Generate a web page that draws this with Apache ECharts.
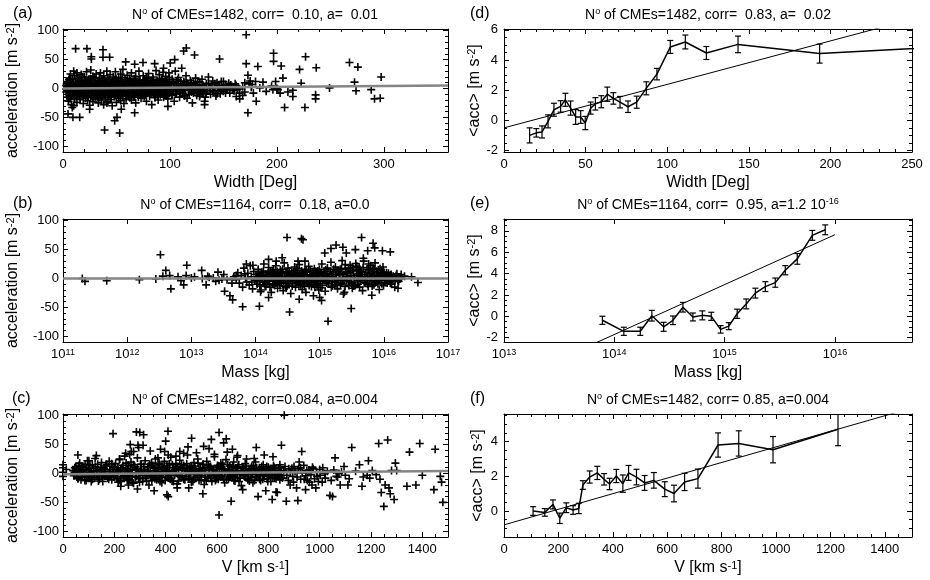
<!DOCTYPE html>
<html><head><meta charset="utf-8">
<script src="https://cdn.jsdelivr.net/npm/echarts@6/dist/echarts.min.js"></script>
<style>html,body{margin:0;padding:0;background:#fff}#c{width:930px;height:580px}</style>
</head><body><div id="c"></div>
<script>
// ---------------- DATA ----------------
// (a) acceleration vs width [deg, m s^-2]
const accVsWidth = [
[11.8,69],[22.4,69],[26.5,55],[26.5,51],[37.4,67],[37.4,54],[43.6,54],[58.6,46],[67,42],[74.8,45],[85.7,43],[93.5,28],[100.3,44],[104.4,50],[112.8,65],[115.3,70],[123,58],[146.4,51],[171.3,93],[171.3,43],[172.9,23],[182.2,38],[196.9,61],[196.9,47],[204,39],[205.6,18],[221.2,33],[226.8,55],[222.7,9],[236.8,36],[267.9,45],[275.7,37],[272.6,11],[297.5,20],[198.8,12],[187,11],
[4.7,-44],[9.3,-50],[15.6,-50],[8.7,-33],[24.9,-36],[38.9,-72],[48.3,-56],[50.5,-50],[53,-77],[41.1,-25],[54.5,-36],[67,-42],[98.1,-31],[132.4,-22],[132.4,-28],[127.7,-14],[165.2,-18],[172.9,-42],[180.7,-22],[210.3,-6],[214.9,-14],[207.2,-33],[226.2,-33],[236.2,-11],[236.2,-18],[249.2,1],[274,-4],[288.2,-2],[291.3,-18],[296.6,-17],[214.9,-3],[201,-2],[196.3,-2],[184,1],[158.9,0],[162,-14],
[150,12],[155,9],[170,10],[175,13],[177,7],[165,-8],[168,-12],[190,-5],[195,4],[200,0],[203,-8],
[3,5],[3,-6],[4,12],[4,-15],[5,2],[5,-22],[6,18],[6,-9],[7,-3],[7,25],[8,8],[8,-28],[9,-12],[9,15],[10,3],[10,-30],[10,30],[11,-18],[11,22],[12,-5],[12,10],
[13,-24],[13,27],[14,4],[14,-11],[15,17],[15,-2],[16,-19],[16,9],[17,24],[17,-7],[18,-14],[18,13],[19,1],[19,-26],[20,20],[20,-9],[21,6],[21,-17],[22,29],[22,-3],[23,12],[23,-21],[24,-8],[24,16],[25,2],[25,-29],[26,32],[26,-13],[27,8],[27,-4],[28,21],[28,-23],[29,-10],[29,14],[30,0],[30,-18],
[31,25],[31,-6],[32,-15],[32,10],[33,4],[33,-25],[34,18],[34,-2],[35,-11],[35,27],[36,7],[36,-20],[37,-5],[37,14],[38,22],[38,-28],[39,1],[39,-9],[40,11],[40,-16],[41,30],[41,-3],[42,5],[42,-22],[43,16],[43,-12],[44,-6],[44,24],[45,2],[45,-19],[46,12],[46,-30],[47,-8],[47,20],[48,6],[48,-14],[49,29],[49,-2],[50,-24],[50,14],[51,3],[51,-10],[52,19],[52,-17],[53,8],[53,-5],[54,25],[54,-21],[55,-1],[55,11],[56,-13],[56,33],[57,4],[57,-26],[58,16],[58,-7],[59,-18],[59,9],[60,1],[60,23],
[61,-12],[62,17],[62,-4],[63,6],[64,-20],[64,27],[65,-8],[66,12],[66,-15],[67,3],[68,21],[68,-25],[69,-6],[70,9],[70,-11],[71,30],[72,-2],[72,15],[73,-17],[74,5],[74,-9],[75,22],[76,-14],[76,11],[77,0],[78,-22],[78,18],[79,7],[80,-5],[80,26],[81,-13],[82,13],[82,-3],[83,-28],[84,8],[84,20],[85,-9],[86,2],[86,-16],[87,31],[88,-6],[88,14],[89,-20],[90,5],[90,24],[91,-11],[92,10],[92,-3],[93,17],[94,-15],[94,35],[95,1],[96,-8],[96,21],[97,12],[98,-18],[98,4],[99,27],[100,-6],[100,9],
[102,16],[102,-12],[104,2],[104,-22],[105,30],[106,8],[107,-5],[108,19],[109,-15],[110,4],[111,35],[112,-8],[113,12],[114,-2],[115,22],[116,-17],[117,7],[118,-10],[119,14],[120,1],[121,-25],[122,9],[123,-4],[124,18],[125,-12],[126,5],[127,-7],[128,11],[129,-2],[130,16],[131,-9],[132,3],[133,-15],[134,8],[135,-4],[136,20],[137,0],[138,-10],[139,6],[140,13],[141,-6],[142,2],[143,-13],[144,10],[145,-3],[146,5],[147,-9],[148,12],[149,1],[150,-5],[152,7],[153,-2],[155,4],[156,-8],[158,2],[160,-4],[162,5],[165,-1],[168,3],[170,-6],[174,8],[176,2],[178,-8],[180,12],
[3,-1],[4,3],[5,-10],[6,6],[7,-14],[8,1],[9,-4],[10,11],[11,-8],[12,2],[13,9],[14,-6],[15,5],[16,-3],[17,12],[18,-9],[19,7],[20,-1],[21,14],[22,-12],[23,4],[24,0],[25,10],[26,-5],[27,16],[28,-15],[29,3],[30,9],[31,-10],[32,1],[33,13],[34,-8],[35,6],[36,-2],[37,-13],[38,9],[39,16],[40,-4],[41,8],[42,-11],[43,2],[44,12],[45,-7],[46,5],[47,-2],[48,15],[49,-12],[50,4],[51,10],[52,-6],[53,1],[54,13],[55,-9],[56,6],[57,-3],[58,11],[59,-14],[60,8],[61,2],[62,-9],[63,14],[64,-3],[65,7],[66,-1],[67,-12],[68,10],[69,4],[70,-5],[71,13],[72,-10],[73,6],[74,0],[75,-6],[76,15],[77,-11],[78,3],[79,-2],[80,9],[81,5],[82,-8],[83,12],[84,-3],[85,7],[86,-12],[87,2],[88,-1],[89,10],[90,-7],[91,4],[92,16],[93,-5],[94,6],[95,-11],[96,3],[97,-3],[98,11],[99,-9],[100,1],[101,7],[103,-4],[105,-10],[106,12],[108,-1],[110,-8],[112,6],[114,9],[116,3],[118,4],[120,-6],[122,-2],[124,6],[126,-4],[128,1],[130,-5],
[3.5,8],[4.5,-4],[5.5,15],[6.5,-18],[7.5,10],[8.5,-7],[9.5,4],[10.5,-16],[11.5,6],[12.5,-11],[13.5,18],[14.5,-1],[15.5,-14],[16.5,3],[17.5,-5],[18.5,20],[19.5,-10],[20.5,9],[21.5,-6],[22.5,1],[23.5,-15],[24.5,7],[25.5,17],[26.5,-2],[27.5,-9],[28.5,5],[29.5,19],[30.5,-13],[31.5,2],[32.5,-4],[33.5,11],[34.5,-16],[35.5,-7],[36.5,15],[37.5,3],[38.5,-12],[39.5,6],[40.5,-1],[41.5,18],[42.5,-8],[43.5,7],[44.5,-15],[45.5,9],[46.5,-4],[47.5,2],[48.5,-10],[49.5,17],[50.5,-6],[51.5,8],[52.5,-1],[53.5,-14],[54.5,5],[55.5,19],[56.5,-5],[57.5,2],[58.5,-11],[59.5,13],[60.5,-7],[61.5,6],[62.5,-16],[63.5,0],[64.5,10],[65.5,-5],[66.5,17],[67.5,-9],[68.5,3],[69.5,12],[70.5,-15],[71.5,5],[72.5,-6],[73.5,9],[74.5,-12],[75.5,1],[76.5,-3],[77.5,14],[78.5,-8],[79.5,18],[80.5,0],[81.5,-10],[82.5,7],[83.5,-5],[84.5,16],[85.5,2],[86.5,-7],[87.5,11],[88.5,-14],[89.5,3],[90.5,12],[91.5,-4],[92.5,-9],[93.5,6],[94.5,0],[95.5,14],[96.5,-13],[97.5,5],[98.5,-2],[99.5,19],[101.5,-10],[103.5,10],[105.5,-3],[107.5,15],[109.5,-7],[111.5,3],[113.5,-13],[115.5,10],[117.5,-3],[119.5,7],
[101,-3],[103,11],[106,-9],[108,4],[110,13],[112,-4],[114,-12],[116,8],[118,-2],[120,10],[122,-8],[124,1],[126,12],[128,-11],[130,6],[132,-2],[134,-8],[136,9],[138,3],[140,-4],[142,8],[144,-9],[146,1],[148,-2],[150,5],[152,-8],[154,1],[157,6],[159,-3],[161,8],[163,-2]
];
const fitWidthX = [0, 360];
const fitWidthY = [0, 5];

// (b) acceleration vs mass [kg, m s^-2]
const accVsMass = [
[2.0e11,0],[2.2e11,-5],[4.8e11,-4],[1.55e12,-2],[2.8e12,-1],[3.3e12,41],[3.6e12,4],[4e12,14],[4.6e12,5],[4.8e12,-18],[6.2e12,3],[6.9e12,-4],[7.6e12,-11],[8.3e12,5],[8.5e12,23],[1e13,1],[1.12e13,3],[1.45e13,14],[1.48e13,0],[1.7e13,-11],[1.8e13,4],[2.2e13,1],[2.6e13,11],[2.7e13,-3],[3e13,-1],[3.2e13,7],[3.3e13,-22],[4e13,-30],[4.4e13,-37],[5e13,5],[6.3e13,-49],[7.2e13,25],[9.1e13,23],[1.15e14,-48],[1.2e14,-23],[1.6e14,33],[1.6e14,-33],[2.1e14,30],[2.6e14,36],[3.1e14,71],[4.6e14,30],[5.2e14,69],[5.5e14,67],[4.8e14,-36],[3.4e14,-58],[5.9e14,30],[1e15,-33],[1.07e15,-38],[1.35e15,-74],[1.2e15,44],[1.5e15,52],[1.8e15,58],[2.3e15,54],[2.6e15,44],[2.35e15,-27],[3.1e15,-52],[3.6e15,50],[4.5e15,71],[4.8e15,35],[5.6e15,48],[6.8e15,61],[7.2e15,53],[9.5e15,48],[1.26e16,46],[6.5e15,-29],[8.5e15,-19],[1.26e16,-8],[1.48e16,-15],[1.66e16,-17],[1.86e16,7],[2.1e16,4],[2.7e16,3],[3.4e16,-7],[1.32e16,0],[1e16,11],[1.05e16,3],
[1.9e13,2],[2.4e13,-5],[3.6e13,-2],[4.3e13,-8],[4.6e13,3],[5.3e13,10],[5.6e13,-8],[6.0e13,5],[6.3e13,-15],[6.6e13,18],[7.0e13,0],[7.3e13,-6],[7.6e13,9],[8.0e13,-11],[8.3e13,22],[8.6e13,3],[9.0e13,-18],[9.4e13,12],[9.8e13,-3],[5.0e13,-2],[6.8e13,8],[8.8e13,-6],
[1.02e14,7],[1.06e14,-10],[1.1e14,16],[1.14e14,-4],[1.18e14,2],[1.22e14,-20],[1.26e14,11],[1.3e14,-7],[1.35e14,25],[1.4e14,0],[1.45e14,-14],[1.5e14,6],[1.55e14,-2],[1.6e14,19],[1.65e14,-9],[1.7e14,3],[1.76e14,-24],[1.82e14,13],[1.88e14,-5],[1.94e14,8],[2.0e14,-12],[2.07e14,22],[2.14e14,1],[2.21e14,-17],[2.28e14,10],[2.36e14,-3],[2.44e14,15],[2.52e14,-8],[2.6e14,4],[2.7e14,-21],[2.8e14,27],[2.9e14,-1],[3.0e14,9],[3.1e14,-13],[3.2e14,18],[3.3e14,-5],[3.42e14,2],[3.54e14,-26],[3.66e14,12],[3.8e14,-9],[3.93e14,6],[4.07e14,20],[4.2e14,-15],[4.35e14,0],[4.5e14,14],[4.65e14,-6],[4.8e14,24],[5.0e14,-11],[5.15e14,5],[5.33e14,-19],[5.5e14,9],[5.7e14,-3],[5.9e14,16],[6.1e14,-24],[6.3e14,3],[6.5e14,-8],[6.75e14,21],[7.0e14,-1],[7.2e14,11],[7.45e14,-14],[7.7e14,6],[8.0e14,-30],[8.25e14,17],[8.5e14,-5],[8.8e14,2],[9.1e14,-12],[9.4e14,13],[9.7e14,-20],
[1.15e14,5],[1.4e14,-11],[1.7e14,13],[2.0e14,3],[2.3e14,-6],[2.6e14,12],[3.0e14,-16],[3.4e14,7],[3.8e14,-2],[4.2e14,10],[4.6e14,-3],[5.1e14,1],[5.6e14,-9],[6.2e14,13],[6.8e14,-5],[7.4e14,4],[8.1e14,-10],[8.8e14,9],[9.5e14,0],
[1.0e15,8],[1.04e15,-16],[1.08e15,25],[1.12e15,-3],[1.17e15,12],[1.22e15,-22],[1.27e15,4],[1.32e15,18],[1.37e15,-9],[1.43e15,1],[1.5e15,28],[1.56e15,-13],[1.62e15,10],[1.69e15,-5],[1.76e15,20],[1.83e15,-1],[1.9e15,-18],[1.98e15,14],[2.06e15,6],[2.15e15,-8],[2.24e15,31],[2.33e15,2],[2.43e15,-24],[2.53e15,17],[2.64e15,-4],[2.75e15,9],[2.86e15,-12],[2.98e15,23],[3.1e15,0],[3.23e15,-17],[3.36e15,13],[3.5e15,-6],[3.65e15,26],[3.8e15,5],[3.96e15,-10],[4.12e15,19],[4.3e15,-2],[4.47e15,11],[4.66e15,-21],[4.85e15,30],[5.05e15,3],[5.26e15,-8],[5.48e15,16],[5.7e15,-14],[5.94e15,8],[6.2e15,22],[6.45e15,-3],[6.7e15,12],[7.0e15,-11],[7.3e15,27],[7.6e15,4],[7.9e15,-6],[8.2e15,15],[8.6e15,-1],[8.9e15,9],[9.3e15,-9],[9.7e15,20],
[1.1e15,2],[1.3e15,-5],[1.55e15,7],[1.8e15,-11],[2.1e15,16],[2.4e15,-2],[2.7e15,3],[3.0e15,11],[3.4e15,-13],[3.8e15,21],[4.2e15,0],[4.6e15,7],[5.2e15,-4],[5.8e15,25],[6.5e15,1],[7.2e15,-4],[8.0e15,6],[9.0e15,14],[2.5e15,24],[3.2e15,19],[4.0e15,14],[5.5e15,4],[6.8e15,18],
[1.02e16,3],[1.06e16,-7],[1.1e16,10],[1.15e16,1],[1.2e16,-4],[1.26e16,6],[1.32e16,-10],[1.4e16,4],[1.5e16,-2],[1.6e16,8],[1.7e16,-5],[1.85e16,2],
[1.05e14,-2],[1.12e14,9],[1.17e14,-13],[1.21e14,4],[1.28e14,-1],[1.33e14,13],[1.38e14,-6],[1.43e14,7],[1.48e14,-9],[1.53e14,2],[1.58e14,10],[1.63e14,-4],[1.68e14,-15],[1.74e14,7],[1.8e14,1],[1.86e14,-10],[1.92e14,15],[1.98e14,-2],[2.04e14,5],[2.11e14,-8],[2.18e14,12],[2.25e14,-3],[2.32e14,4],[2.4e14,-12],[2.48e14,8],[2.56e14,-1],[2.65e14,16],[2.74e14,-6],[2.84e14,3],[2.94e14,-14],[3.05e14,10],[3.15e14,1],[3.26e14,-9],[3.37e14,13],[3.48e14,-3],[3.6e14,5],[3.73e14,-13],[3.86e14,11],[4.0e14,-2],[4.13e14,6],[4.27e14,-8],[4.42e14,17],[4.57e14,2],[4.73e14,-11],[4.9e14,8],[5.07e14,-4],[5.24e14,13],[5.42e14,-1],[5.6e14,4],[5.8e14,-14],[6.0e14,11],[6.2e14,-5],[6.4e14,7],[6.6e14,-2],[6.85e14,-12],[7.1e14,14],[7.35e14,2],[7.6e14,-7],[7.85e14,9],[8.1e14,1],[8.4e14,-15],[8.7e14,12],[9.0e14,-4],[9.3e14,6],[9.6e14,-9],[9.9e14,16],
[1.02e15,-5],[1.06e15,10],[1.1e15,-12],[1.14e15,5],[1.19e15,-1],[1.24e15,15],[1.29e15,-8],[1.34e15,8],[1.4e15,-3],[1.46e15,12],[1.52e15,-15],[1.58e15,3],[1.65e15,16],[1.72e15,-7],[1.79e15,6],[1.86e15,13],[1.94e15,-4],[2.02e15,9],[2.1e15,-11],[2.19e15,17],[2.28e15,-2],[2.38e15,7],[2.48e15,-14],[2.58e15,11],[2.69e15,0],[2.8e15,18],[2.92e15,-6],[3.04e15,5],[3.17e15,-9],[3.3e15,14],[3.44e15,2],[3.58e15,-12],[3.73e15,16],[3.88e15,-3],[4.04e15,8],[4.2e15,-15],[4.38e15,12],[4.56e15,-1],[4.75e15,19],[4.95e15,-7],[5.15e15,10],[5.37e15,1],[5.6e15,-10],[5.83e15,15],[6.07e15,-4],[6.32e15,9],[6.58e15,-13],[6.86e15,6],[7.15e15,16],[7.45e15,-6],[7.75e15,10],[8.07e15,-9],[8.4e15,4],[8.75e15,17],[9.1e15,-3],[9.5e15,7],[9.9e15,-12],
[1.03e16,-2],[1.08e16,5],[1.13e16,-8],[1.18e16,9],[1.23e16,-1],[1.3e16,7],[1.36e16,-5],[1.45e16,1],[1.55e16,5],[1.65e16,-3],[1.78e16,-1]
];
const fitMassX = [1e11, 1e17];
const fitMassY = [0, 0];

// (c) acceleration vs speed [km s^-1, m s^-2]
const accVsSpeed = [
[0,15],[0,10],[0,2],[0,-5],[13,7],[58,32],[101,22],[130,31],[195,69],[286,72],[299,71],[314,67],[292,49],[312,49],[262,50],[266,38],[244,35],[221,25],[340,39],[370,27],[396,38],[400,56],[409,73],[455,38],[487,46],[501,61],[548,47],[569,43],[578,59],[608,71],[626,53],[636,60],[678,28],[753,45],[784,32],[818,29],[851,49],[862,101],
[225,-22],[255,-20],[290,-27],[355,-30],[405,-37],[410,-40],[445,-25],[490,-25],[545,-35],[608,-72],[655,-48],[700,-28],[760,-40],[790,-30],
[815,-45],[830,-32],[835,-33],[845,15],[870,-48],[880,8],[885,-20],[895,-5],[900,12],[910,-25],[915,-47],[920,20],[925,10],[930,38],[940,-10],[945,-28],[950,5],[960,-15],[970,-20],[975,8],[985,-25],[990,-5],[1000,7],[1010,-15],[1020,0],
[1040,-38],[1050,-40],[1060,27],[1065,-5],[1075,0],[1080,-20],[1100,-3],[1110,-20],[1125,45],[1155,15],[1165,-22],[1185,-3],[1190,22],[1195,-8],[1230,52],[1235,-10],[1240,-33],[1250,-57],[1255,-20],[1265,58],[1270,-25],[1275,-35],[1280,5],[1290,-45],[1295,18],[1300,5],[1340,-22],[1350,37],[1375,-20],[1390,52],[1400,-3],[1445,-28],[1450,42],[1470,-5],[1475,-15],[1480,-50],
[40,5],[45,-3],[50,12],[55,1],[60,-8],[65,18],[70,4],[75,-2],[80,10],[85,-12],[90,7],[95,22],[100,-4],[105,14],[110,2],[115,-10],[120,9],[125,26],[130,-2],[135,16],[140,-7],[145,5],[150,19],[155,-14],[160,8],[165,-1],[170,13],[175,-6],[180,21],[185,3],[190,-11],[195,11],
[200,-3],[205,17],[210,6],[215,-15],[220,24],[225,0],[230,10],[235,-8],[240,30],[245,4],[250,-12],[255,14],[260,-2],[265,20],[270,7],[275,-17],[280,12],[285,-5],[290,27],[295,2],[300,-9],[305,16],[310,-14],[315,6],[320,22],[325,-3],[330,11],[335,-20],[340,1],[345,18],[350,-7],[355,9],[360,25],[365,-11],[370,3],[375,15],[380,-4],[385,-16],[390,8],[395,21],[400,-1],
[405,13],[410,-8],[415,4],[420,28],[425,-13],[430,10],[435,-3],[440,17],[445,-18],[450,6],[455,23],[460,-6],[465,1],[470,14],[475,-11],[480,8],[485,32],[490,-2],[495,11],[500,-15],[505,4],[510,19],[515,-7],[520,2],[525,25],[530,-12],[535,9],[540,-3],[545,15],[550,-19],[555,5],[560,21],[565,-8],[570,0],[575,12],[580,-14],[585,7],[590,29],[595,-4],[600,10],
[605,-10],[610,3],[615,18],[620,-6],[625,8],[630,-16],[635,24],[640,1],[645,-9],[650,13],[655,-3],[660,6],[665,20],[670,-13],[675,4],[680,-7],[685,15],[690,0],[695,-21],[700,9],[705,-4],[710,17],[715,2],[720,-11],[725,7],[730,-2],[735,12],[740,-16],[745,4],[750,20],[755,-6],[760,1],[765,10],[770,-12],[775,3],[780,15],[785,-4],[790,6],[795,-9],[800,11],[805,-1],[810,-14],[815,5],[820,14],[825,-7],[830,2],[835,-3],[840,9],[845,-11],[850,4],
[45,2],[60,6],[75,-6],[90,0],[105,-6],[120,-1],[135,4],[150,-3],[165,6],[180,-4],[195,2],[210,-5],[225,8],[240,-3],[255,3],[270,-6],[285,6],[300,2],[315,-4],[330,4],[345,-2],[360,5],[375,-8],[390,0],[405,4],[420,-4],[435,7],[450,-2],[465,9],[480,-5],[495,2],[510,7],[525,-3],[540,5],[555,-6],[570,8],[585,-2],[600,3],[615,-4],[630,6],[645,2],[660,-5],[675,9],[690,-2],[705,4],[720,3],[735,-6],[750,5],[765,-3],[780,-1],[795,2],[810,6],[825,-1],[840,-4],
[260,33],[275,38],[295,45],[380,42],[410,32],[440,30],[470,35],[520,36],[590,33],[640,37],[660,42],[680,31],[715,25],[745,26],
[42,-4],[50,8],[58,-9],[66,3],[74,12],[82,-2],[90,-12],[98,6],[106,0],[114,15],[122,-7],[130,5],[138,-13],[146,10],[154,2],[162,-5],[170,16],[178,-10],[186,7],[194,-1],[202,12],[210,-8],[218,4],[226,-14],[234,14],[242,-3],[250,8],[258,-11],[266,1],[274,15],[282,-6],[290,9],[298,-15],[306,4],[314,12],[322,-8],[330,0],[338,16],[346,-12],[354,5],[362,-4],[370,11],[378,-14],[386,7],[394,13],[402,-6],[410,2],[418,-10],[426,15],[434,-1],[442,8],[450,-13],[458,11],[466,-4],[474,5],[482,17],[490,-9],[498,3],[506,-14],[514,13],[522,-2],[530,7],[538,-11],[546,16],[554,0],[562,-7],[570,11],[578,-4],[586,5],[594,-12],[602,14],[610,-2],[618,8],[626,-10],[634,3],[642,15],[650,-6],[658,10],[666,-12],[674,1],[682,12],[690,-8],[698,5],[706,-3],[714,13],[722,-9],[730,6],[738,0],[746,-12],[754,10],[762,-4],[770,7],[778,-10],[786,3],[794,12],[802,-5],[810,2],[818,-8],[826,9],[834,-1],[842,5],[850,-6],
[46,10],[54,-6],[62,14],[70,-11],[78,5],[86,16],[94,-5],[102,9],[110,-14],[118,4],[126,12],[134,-4],[142,-10],[150,7],[158,-2],[166,13],[174,-8],[182,3],[190,17],[198,-6],[206,1],[214,10],[222,-12],[230,5],[238,-5],[246,18],[254,-9],[262,6],[270,-15],[278,11],[286,1],[294,-8],[302,16],[310,-3],[318,7],[326,-13],[334,10],[342,-5],[350,14],[358,-9],[366,2],[374,18],[382,-7],[390,4],[398,-12],[406,10],[414,17],[422,-3],[430,-14],[438,6],[446,12],[454,-5],[462,15],[470,-10],[478,1],[486,9],[494,-6],[502,13],[510,-10],[518,5],[526,18],[534,-4],[542,2],[550,10],[558,-13],[566,14],[574,-8],[582,7],[590,-1],[598,-9],[606,12],[614,-6],[622,16],[630,2],[638,-11],[646,6],[654,-2],[662,13],[670,-7],[678,9],[686,-14],[694,4],[702,11],[710,-6],[718,2],[726,-13],[734,8],[742,14],[750,-7],[758,3],[766,-10],[774,12],[782,-2],[790,9],[798,-14],[806,6],[814,-3],[822,11],[830,-9],[838,4],[846,10],
[855,-8],[860,5],[865,12],[872,-3],[878,-12],[886,2],[892,9],[898,-15],[904,4],[912,-6],[918,8],[926,-10],[932,1],[938,14],[946,-4],[952,-12],[958,6],[966,-2],[972,11],[980,-9],[988,3],[995,-14],[1002,-3],[1012,10],[1022,-8],[1030,4],[1045,-12],[1055,6],[1070,-6],[1085,3],[1095,12],[1115,-9],[1140,4],[1170,-6],[1205,5],[1220,-2]
];
const fitSpeedX = [0, 1500];
const fitSpeedY = [-1.5, 4.5];

// (d) binned <acc> vs width
const widthBinX   = [15.7, 19.8, 23.3, 27, 30.6, 34.7, 37.6, 40.8, 43.9, 47, 49.8, 53.1, 56, 59.6, 63.3, 67, 71.1, 76, 81.3, 87.2, 93.7, 101.9, 111.1, 124, 143.4, 193.4, 300];
const widthBinY   = [-1.0, -0.83, -0.77, -0.07, 0.7, 0.92, 1.36, 0.81, 0.22, 0.22, -0.18, 0.81, 1.09, 1.23, 1.73, 1.45, 1.2, 0.9, 1.2, 2.12, 3.06, 4.86, 5.19, 4.46, 5.03, 4.42, 5.04];
const widthBinErr = [0.5, 0.28, 0.4, 0.43, 0.43, 0.38, 0.43, 0.47, 0.49, 0.42, 0.44, 0.4, 0.41, 0.4, 0.47, 0.38, 0.38, 0.38, 0.4, 0.43, 0.38, 0.43, 0.46, 0.43, 0.55, 0.63, 0.8];
const widthFitX = [0, 250];
const widthFitY = [-0.5, 6.7];

// (e) binned <acc> vs mass
const massBinX   = [7.8e13, 1.22e14, 1.72e14, 2.19e14, 2.8e14, 3.4e14, 4.19e14, 5.16e14, 6.28e14, 7.57e14, 9.2e14, 1.09e15, 1.3e15, 1.57e15, 1.9e15, 2.34e15, 2.88e15, 3.55e15, 4.56e15, 6.24e15, 8.17e15];
const massBinY   = [-0.37, -1.4, -1.4, 0.06, -0.98, -0.37, 0.85, -0.06, 0.09, 0.0, -1.22, -0.92, 0.24, 1.16, 2.17, 2.78, 3.15, 4.31, 5.37, 7.57, 8.09];
const massBinErr = [0.38, 0.38, 0.38, 0.5, 0.42, 0.4, 0.45, 0.37, 0.42, 0.38, 0.35, 0.33, 0.43, 0.46, 0.46, 0.46, 0.43, 0.43, 0.5, 0.46, 0.46];
const massFitX = [6.9e13, 1e16];
const massFitY = [-2.45, 7.63];

// (f) binned <acc> vs speed
const speedBinX   = [107, 150, 180, 205, 229, 254, 275, 290, 315, 343, 368, 388, 413, 437, 458, 487, 517, 551, 591, 625, 664, 713, 787, 863, 989, 1228];
const speedBinY   = [0.0, -0.08, 0.38, -0.42, 0.19, 0.06, 0.15, 1.5, 1.96, 2.2, 1.83, 1.56, 2.02, 1.58, 2.2, 1.96, 1.62, 1.77, 1.26, 1.01, 1.68, 1.87, 3.81, 3.9, 3.54, 4.72];
const speedBinErr = [0.25, 0.22, 0.26, 0.3, 0.28, 0.25, 0.3, 0.25, 0.35, 0.38, 0.33, 0.33, 0.38, 0.5, 0.43, 0.45, 0.43, 0.45, 0.43, 0.48, 0.5, 0.55, 0.7, 0.73, 0.76, 0.95];
const speedFitX = [0, 1500];
const speedFitY = [-0.8, 5.95];

// Text
const panelLabels = ['(a)', '(b)', '(c)', '(d)', '(e)', '(f)'];
const panelTitles = [
  'N{s|o} of CMEs=1482, corr=  0.10, a=  0.01',
  'N{s|o} of CMEs=1164, corr=  0.18, a=0.0',
  'N{s|o} of CMEs=1482, corr=0.084, a=0.004',
  'N{s|o} of CMEs=1482, corr=  0.83, a=  0.02',
  'N{s|o} of CMEs=1164, corr=  0.95, a=1.2 10{s|-16}',
  'N{s|o} of CMEs=1482, corr= 0.85, a=0.004'
];
const xNames = ['Width [Deg]', 'Mass [kg]', 'V [km s{s|-1}]', 'Width [Deg]', 'Mass [kg]', 'V [km s{s|-1}]'];
const yNames = ['acceleration [m s{s|-2}]', 'acceleration [m s{s|-2}]', 'acceleration [m s{s|-2}]',
                '<acc> [m s{s|-2}]', '<acc> [m s{s|-2}]', '<acc> [m s{s|-2}]'];

// ---------------- LAYOUT / STYLE ----------------
const FONT = "'Liberation Sans', Arial, Helvetica, sans-serif";
const supRich = (fs) => ({ s: { fontSize: fs, lineHeight: fs, verticalAlign: 'top', fontFamily: FONT, color: '#000' } });
const PLUS = 'path://M4,0h2v4h4v2h-4v4h-2v-4h-4v-2h4z';

const grids = [
  { left: 63, top: 29, width: 385, height: 123 },
  { left: 63, top: 219, width: 385, height: 123 },
  { left: 63, top: 414, width: 385, height: 123 },
  { left: 504, top: 29, width: 408, height: 123 },
  { left: 504, top: 219, width: 408, height: 123 },
  { left: 504, top: 414, width: 408, height: 123 }
];
const xSpec = [
  { type: 'value', min: 0, max: 360, split: 4, minor: 5, showMax: false },
  { type: 'log', min: 1e11, max: 1e17, showMax: true },
  { type: 'value', min: 0, max: 1500, split: 7, minor: 4, showMax: false },
  { type: 'value', min: 0, max: 250, split: 5, minor: 5, showMax: true },
  { type: 'log', min: 1e13, max: 5e16, showMax: false },
  { type: 'value', min: 0, max: 1500, split: 7, minor: 4, showMax: false }
];
const ySpec = [
  { min: -110, max: 103, split: 4, minor: 5, gap: 42, margin: 4 },
  { min: -110, max: 103, split: 4, minor: 5, gap: 42, margin: 4 },
  { min: -110, max: 103, split: 4, minor: 5, gap: 42, margin: 4 },
  { min: -2.1, max: 6.05, split: 4, minor: 4, gap: 18, margin: 6 },
  { min: -2.4, max: 9.1, split: 5, minor: 4, gap: 18, margin: 6 },
  { min: -1.5, max: 5.6, split: 4, minor: 4, gap: 18, margin: 6 }
];

const black = { color: '#000', width: 1 };
function baseAxis(spec, gridIndex, position) {
  const a = {
    gridIndex, position, type: spec.type || 'value', min: spec.min, max: spec.max,
    axisLine: { show: true, onZero: false, lineStyle: black },
    axisTick: { show: true, inside: true, length: 5, lineStyle: black },
    minorTick: spec.minor ? { show: true, splitNumber: spec.minor, length: 3, lineStyle: black } : { show: false },
    splitLine: { show: false }, minorSplitLine: { show: false },
    axisLabel: { show: false }
  };
  if (spec.type === 'log') { a.logBase = 10; } else { a.splitNumber = spec.split; }
  return a;
}
const plainNum = (v) => String(Math.round(v * 1000) / 1000);

const xAxes = [], yAxes = [];
for (let i = 0; i < 6; i++) {
  const xs = xSpec[i];
  const xb = baseAxis(xs, i, 'bottom');
  xb.axisLabel = {
    show: true, margin: 6, color: '#000', fontFamily: FONT, fontSize: 13,
    showMinLabel: true, showMaxLabel: xs.showMax,
    rich: supRich(9),
    formatter: xs.type === 'log' ? ((v) => '10{s|' + Math.round(Math.log10(v)) + '}') : plainNum
  };
  xb.name = xNames[i];
  xb.nameLocation = 'middle';
  xb.nameGap = 23;
  xb.nameTextStyle = { color: '#000', fontFamily: FONT, fontSize: 16, rich: supRich(11) };
  xAxes.push(xb);
  const ys = ySpec[i];
  const yl = baseAxis(ys, i, 'left');
  yl.axisLabel = {
    show: true, margin: ys.margin, color: '#000', fontFamily: FONT, fontSize: 13,
    showMinLabel: false, showMaxLabel: false, formatter: plainNum
  };
  yl.name = yNames[i];
  yl.nameLocation = 'middle';
  yl.nameGap = ys.gap;
  yl.nameTextStyle = { color: '#000', fontFamily: FONT, fontSize: 16, rich: supRich(11) };
  yAxes.push(yl);
}
for (let i = 0; i < 6; i++) {
  xAxes.push(baseAxis(xSpec[i], i, 'top'));
  yAxes.push(baseAxis(ySpec[i], i, 'right'));
}

// titles
const titlePos = [[255, 7], [255, 197], [255, 392], [708, 7], [708, 197], [708, 392]];
const labelPos = [[13, 6], [13, 196], [12, 391], [470, 6], [470, 196], [470, 391]];
const titles = [];
for (let i = 0; i < 6; i++) {
  titles.push({
    text: panelTitles[i], left: titlePos[i][0], top: titlePos[i][1], textAlign: 'center', padding: 0,
    textStyle: { fontFamily: FONT, fontSize: 14, fontWeight: 'normal', color: '#000', lineHeight: 17, rich: supRich(9) }
  });
  titles.push({
    text: panelLabels[i], left: labelPos[i][0], top: labelPos[i][1], padding: 0,
    textStyle: { fontFamily: FONT, fontSize: 16, fontWeight: 'normal', color: '#000' }
  });
}

// series helpers
const zip = (xs, ys) => xs.map((x, k) => [x, ys[k]]);
const zip3 = (xs, ys, es) => xs.map((x, k) => [x, ys[k], es[k]]);
function errRender(params, api) {
  const x = api.value(0), y = api.value(1), e = api.value(2);
  const hi = api.coord([x, y + e]);
  const lo = api.coord([x, y - e]);
  const w = 3;
  const st = { stroke: '#000', lineWidth: 1.2, fill: null };
  return {
    type: 'group', children: [
      { type: 'line', shape: { x1: hi[0], y1: hi[1], x2: lo[0], y2: lo[1] }, style: st },
      { type: 'line', shape: { x1: hi[0] - w, y1: hi[1], x2: hi[0] + w, y2: hi[1] }, style: st },
      { type: 'line', shape: { x1: lo[0] - w, y1: lo[1], x2: lo[0] + w, y2: lo[1] }, style: st }
    ]
  };
}
function scatterSeries(idx, data) {
  return { type: 'scatter', xAxisIndex: idx, yAxisIndex: idx, data, symbol: PLUS, symbolSize: 8,
           itemStyle: { color: '#000', opacity: 1 }, silent: true, large: false };
}
function lineSeries(idx, data, color, width) {
  return { type: 'line', xAxisIndex: idx, yAxisIndex: idx, data, symbol: 'none', showSymbol: false,
           clip: true, silent: true, lineStyle: { color, width }, z: 3 };
}
function errSeries(idx, data) {
  return { type: 'custom', xAxisIndex: idx, yAxisIndex: idx, data, renderItem: errRender, clip: true,
           encode: { x: 0, y: 1 }, silent: true, z: 4 };
}

const series = [
  scatterSeries(0, accVsWidth), lineSeries(0, zip(fitWidthX, fitWidthY), '#858585', 2.5),
  scatterSeries(1, accVsMass), lineSeries(1, zip(fitMassX, fitMassY), '#858585', 2.5),
  scatterSeries(2, accVsSpeed), lineSeries(2, zip(fitSpeedX, fitSpeedY), '#858585', 2.5),
  lineSeries(3, zip(widthBinX, widthBinY), '#000', 1.5), errSeries(3, zip3(widthBinX, widthBinY, widthBinErr)), lineSeries(3, zip(widthFitX, widthFitY), '#000', 1),
  lineSeries(4, zip(massBinX, massBinY), '#000', 1.5), errSeries(4, zip3(massBinX, massBinY, massBinErr)), lineSeries(4, zip(massFitX, massFitY), '#000', 1),
  lineSeries(5, zip(speedBinX, speedBinY), '#000', 1.5), errSeries(5, zip3(speedBinX, speedBinY, speedBinErr)), lineSeries(5, zip(speedFitX, speedFitY), '#000', 1)
];

const chart = echarts.init(document.getElementById('c'), null, { renderer: 'canvas' });
chart.setOption({
  animation: false,
  backgroundColor: '#fff',
  title: titles,
  grid: grids.map(g => Object.assign({ containLabel: false, outerBoundsMode: 'none' }, g)),
  xAxis: xAxes,
  yAxis: yAxes,
  series
});
</script>
</body></html>
